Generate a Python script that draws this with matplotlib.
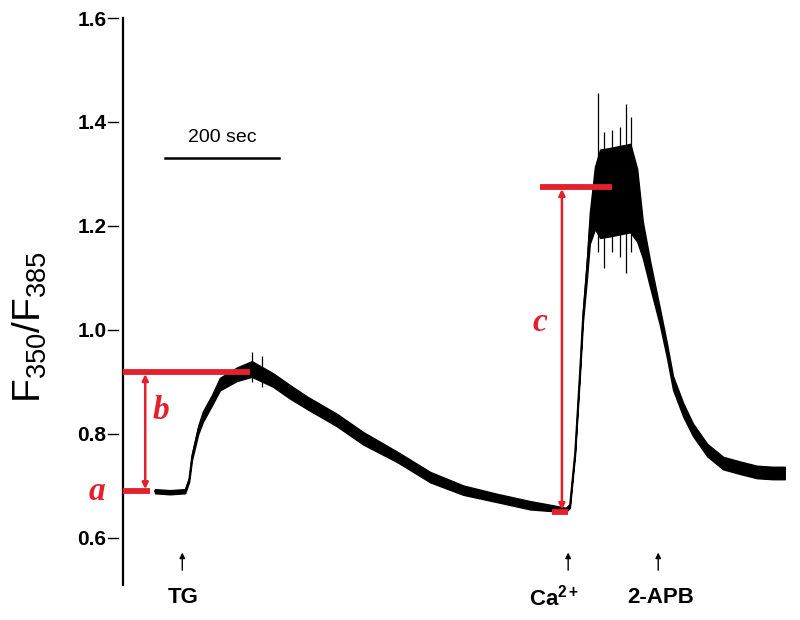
import matplotlib
matplotlib.use("Agg")
import matplotlib.pyplot as plt
import matplotlib.transforms as mtransforms
import numpy as np

plt.rcParams['font.family'] = ['Liberation Sans', 'DejaVu Sans']
plt.rcParams['mathtext.fontset'] = 'custom'
plt.rcParams['mathtext.rm'] = 'Liberation Sans'
plt.rcParams['mathtext.bf'] = 'Liberation Sans:bold'
plt.rcParams['mathtext.it'] = 'Liberation Sans:italic'

# ---- data (time in s, ratio F350/F385) ----
time_s = [56, 82, 109, 116, 121, 132, 140, 156, 170, 200, 226, 263, 293, 323, 375,
          421, 481, 539, 597, 656, 714, 749, 777, 784, 793, 802, 807, 814, 819, 828,
          837, 854, 872, 890, 902, 912, 925, 942, 954, 965, 983, 1000, 1025, 1053,
          1083, 1112, 1140, 1161]
ratio_mid = [0.690, 0.688, 0.690, 0.712, 0.756, 0.808, 0.833, 0.865, 0.896, 0.915,
             0.925, 0.904, 0.881, 0.860, 0.827, 0.792, 0.756, 0.717, 0.692, 0.677,
             0.663, 0.658, 0.654, 0.662, 0.763, 0.927, 1.027, 1.119, 1.196, 1.254,
             1.262, 1.265, 1.269, 1.273, 1.240, 1.173, 1.106, 1.025, 0.962, 0.898,
             0.846, 0.808, 0.769, 0.744, 0.735, 0.727, 0.725, 0.725]
noise_half = [0.004, 0.004, 0.004, 0.004, 0.006, 0.008, 0.010, 0.010, 0.012, 0.013,
              0.015, 0.013, 0.013, 0.012, 0.012, 0.012, 0.010, 0.010, 0.009, 0.008,
              0.008, 0.006, 0.004, 0.004, 0.004, 0.006, 0.010, 0.019, 0.030, 0.060,
              0.085, 0.085, 0.085, 0.085, 0.070, 0.035, 0.025, 0.016, 0.014, 0.013,
              0.013, 0.012, 0.012, 0.012, 0.012, 0.012, 0.012, 0.012]
spike_t = [226, 243, 833, 844, 858, 872, 882, 891]
spike_top = [0.958, 0.950, 1.456, 1.380, 1.385, 1.390, 1.435, 1.410]
spike_bot = [0.900, 0.890, 1.150, 1.120, 1.150, 1.140, 1.110, 1.150]

a_level = 0.690
b_level = 0.919
c_low = 0.650
c_high = 1.275

y_ticks = [0.6, 0.8, 1.0, 1.2, 1.4, 1.6]
y_ticklabels = ['0.6', '0.8', '1.0', '1.2', '1.4', '1.6']

stim_labels = ['TG', r'$\mathbf{Ca^{2+}}$', '2-APB']
stim_t = [104, 781, 939]
stim_label_t = [105, 757, 943]

scalebar_t = [74, 274]
scalebar_v = 1.331

RED = '#e3202b'

fig = plt.figure(figsize=(8, 6.2), dpi=100)
ax = fig.add_axes([123/800, 35/620, 677/800, 567/620])
ax.set_xlim(0, 677/0.57)
ax.set_ylim(0.5096, 1.6)

t = np.array(time_s)
m = np.array(ratio_mid)
h = np.array(noise_half)
ax.fill_between(t, m - h, m + h, color='black', lw=1.0, zorder=3)
ax.plot(t, m, color='black', lw=1.2, zorder=3)
ax.vlines(spike_t, spike_bot, spike_top, color='black', lw=0.9, zorder=3)

# red annotations
LW_H = 4.2
ax.plot([0, 47], [a_level, a_level], color=RED, lw=LW_H, solid_capstyle='butt', zorder=4)
ax.plot([0, 223], [b_level, b_level], color=RED, lw=LW_H, solid_capstyle='butt', zorder=4)
ax.annotate('', xy=(39, a_level + 0.004), xytext=(39, b_level - 0.004),
            arrowprops=dict(arrowstyle='<|-|>', color=RED, lw=1.8,
                            mutation_scale=9, shrinkA=0, shrinkB=0), zorder=4)
ax.plot([731, 858], [c_high, c_high], color=RED, lw=LW_H, solid_capstyle='butt', zorder=4)
ax.plot([752, 781], [c_low, c_low], color=RED, lw=LW_H, solid_capstyle='butt', zorder=4)
ax.annotate('', xy=(770, c_low + 0.004), xytext=(770, c_high - 0.004),
            arrowprops=dict(arrowstyle='<|-|>', color=RED, lw=1.8,
                            mutation_scale=9, shrinkA=0, shrinkB=0), zorder=4)
lab_kw = dict(color=RED, fontsize=24, fontweight='bold', style='italic',
              family='Liberation Serif', ha='center', va='center')
ax.text(-45, a_level, 'a', clip_on=False, **lab_kw)
ax.text(66, 0.846, 'b', **lab_kw)
ax.text(731, 1.015, 'c', **lab_kw)

# scale bar
ax.plot(scalebar_t, [scalebar_v, scalebar_v], color='black', lw=1.8)
ax.text(np.mean(scalebar_t), scalebar_v + 0.022, '200 sec', fontsize=14,
        ha='center', va='bottom')

# stimulus arrows and labels
for st, lt, lab in zip(stim_t, stim_label_t, stim_labels):
    ax.annotate('', xy=(st, 0.572), xytext=(st, 0.538),
                arrowprops=dict(arrowstyle='-|>', color='black', lw=1.0,
                                mutation_scale=8, shrinkA=0, shrinkB=0))
    ax.text(lt, 0.485, lab, fontsize=16, fontweight='bold', ha='center',
            va='center', clip_on=False)

# axes styling
for s in ['top', 'right', 'bottom']:
    ax.spines[s].set_visible(False)
ax.spines['left'].set_linewidth(1.6)
ax.set_xticks([])
ax.set_yticks(y_ticks)
ax.set_yticklabels(y_ticklabels, fontsize=15, fontweight='bold')
ax.tick_params(axis='y', direction='out', length=0, pad=12)
# detached tick dashes
trans = mtransforms.blended_transform_factory(ax.transAxes, ax.transData)
for yv in y_ticks:
    ax.plot([-0.0215, -0.0075], [yv, yv], color='black', lw=1.0,
            transform=trans, clip_on=False)
ax.set_ylabel(r'$\mathregular{F_{350}/F_{385}}$', fontsize=28)
ax.yaxis.label.set_va('center')
ax.yaxis.set_label_coords(-0.137, 0.455)

fig.savefig('out.png', dpi=100)
